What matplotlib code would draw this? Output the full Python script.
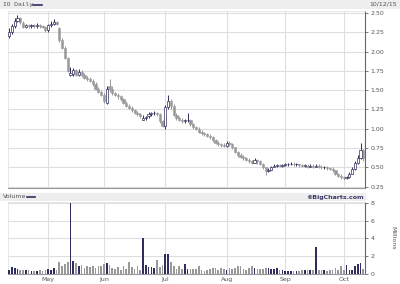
import matplotlib
matplotlib.use('Agg')
import matplotlib.pyplot as plt
from matplotlib.patches import Rectangle
import numpy as np
import pandas as pd

# IO daily, 13 Apr - 12 Oct 2015
closes = [2.25, 2.33, 2.40, 2.44, 2.38, 2.32, 2.34, 2.33, 2.34, 2.33,
          2.35, 2.33, 2.32, 2.28, 2.34, 2.36, 2.38, 2.36, 2.15, 2.05,
          1.92, 1.75, 1.72, 1.76, 1.70, 1.74, 1.70, 1.66, 1.65, 1.62,
          1.58, 1.52, 1.48, 1.44, 1.36, 1.52, 1.52, 1.46, 1.44, 1.42,
          1.38, 1.34, 1.30, 1.27, 1.24, 1.21, 1.19, 1.16, 1.14, 1.15,
          1.19, 1.20, 1.20, 1.19, 1.10, 1.04, 1.28, 1.36, 1.30, 1.18,
          1.14, 1.12, 1.10, 1.11, 1.12, 1.06, 1.02, 1.00, 0.96, 0.94,
          0.93, 0.91, 0.89, 0.85, 0.82, 0.80, 0.79, 0.78, 0.82, 0.80,
          0.76, 0.70, 0.66, 0.64, 0.62, 0.60, 0.58, 0.56, 0.59, 0.58,
          0.55, 0.50, 0.45, 0.47, 0.50, 0.52, 0.53, 0.52, 0.53, 0.54,
          0.54, 0.55, 0.54, 0.54, 0.53, 0.52, 0.52, 0.51, 0.52, 0.51,
          0.52, 0.51, 0.50, 0.50, 0.49, 0.48, 0.46, 0.42, 0.39, 0.37,
          0.36, 0.37, 0.42, 0.48, 0.56, 0.62, 0.72, 0.62]
opens = [2.20, 2.25, 2.33, 2.40, 2.44, 2.37, 2.32, 2.34, 2.33, 2.34,
         2.33, 2.35, 2.33, 2.32, 2.28, 2.34, 2.36, 2.38, 2.30, 2.15,
         2.05, 1.92, 1.70, 1.71, 1.76, 1.70, 1.74, 1.70, 1.66, 1.65,
         1.62, 1.58, 1.52, 1.48, 1.44, 1.34, 1.55, 1.52, 1.46, 1.44,
         1.42, 1.38, 1.34, 1.30, 1.27, 1.24, 1.21, 1.19, 1.12, 1.14,
         1.16, 1.19, 1.20, 1.20, 1.19, 1.10, 1.04, 1.28, 1.36, 1.30,
         1.18, 1.14, 1.12, 1.10, 1.11, 1.12, 1.06, 1.02, 1.00, 0.96,
         0.94, 0.93, 0.91, 0.89, 0.85, 0.82, 0.80, 0.79, 0.78, 0.82,
         0.80, 0.76, 0.70, 0.66, 0.64, 0.62, 0.60, 0.58, 0.56, 0.59,
         0.58, 0.55, 0.50, 0.45, 0.47, 0.50, 0.52, 0.53, 0.52, 0.53,
         0.54, 0.54, 0.55, 0.54, 0.54, 0.53, 0.52, 0.52, 0.51, 0.52,
         0.51, 0.52, 0.51, 0.50, 0.50, 0.49, 0.48, 0.46, 0.42, 0.39,
         0.37, 0.36, 0.37, 0.42, 0.48, 0.56, 0.62, 0.72]
highs = [2.30, 2.36, 2.44, 2.48, 2.45, 2.39, 2.36, 2.36, 2.36, 2.36,
         2.37, 2.36, 2.35, 2.33, 2.36, 2.39, 2.42, 2.40, 2.32, 2.17,
         2.07, 1.93, 1.80, 1.79, 1.78, 1.78, 1.76, 1.72, 1.68, 1.67,
         1.64, 1.60, 1.54, 1.50, 1.46, 1.56, 1.64, 1.55, 1.48, 1.46,
         1.44, 1.40, 1.36, 1.32, 1.29, 1.26, 1.23, 1.21, 1.18, 1.17,
         1.22, 1.22, 1.23, 1.22, 1.20, 1.12, 1.31, 1.44, 1.38, 1.32,
         1.20, 1.16, 1.14, 1.13, 1.20, 1.13, 1.08, 1.04, 1.02, 0.98,
         0.96, 0.95, 0.93, 0.91, 0.87, 0.84, 0.82, 0.81, 0.84, 0.84,
         0.81, 0.77, 0.71, 0.68, 0.66, 0.64, 0.62, 0.60, 0.62, 0.61,
         0.59, 0.56, 0.51, 0.49, 0.52, 0.54, 0.55, 0.55, 0.55, 0.56,
         0.56, 0.57, 0.57, 0.56, 0.55, 0.55, 0.54, 0.54, 0.54, 0.54,
         0.54, 0.54, 0.53, 0.52, 0.52, 0.51, 0.50, 0.47, 0.43, 0.41,
         0.39, 0.39, 0.44, 0.50, 0.58, 0.66, 0.82, 0.74]
lows = [2.18, 2.23, 2.31, 2.38, 2.36, 2.30, 2.30, 2.31, 2.31, 2.31,
        2.31, 2.31, 2.30, 2.26, 2.26, 2.32, 2.34, 2.34, 2.13, 2.03,
        1.90, 1.73, 1.68, 1.68, 1.68, 1.68, 1.67, 1.64, 1.62, 1.60,
        1.56, 1.50, 1.46, 1.42, 1.33, 1.32, 1.48, 1.44, 1.42, 1.39,
        1.36, 1.32, 1.28, 1.25, 1.22, 1.19, 1.17, 1.14, 1.11, 1.12,
        1.14, 1.17, 1.18, 1.17, 1.08, 1.02, 1.00, 1.26, 1.26, 1.16,
        1.12, 1.10, 1.08, 1.08, 1.09, 1.04, 1.00, 0.98, 0.94, 0.92,
        0.91, 0.89, 0.87, 0.83, 0.80, 0.78, 0.77, 0.76, 0.77, 0.78,
        0.74, 0.68, 0.64, 0.62, 0.60, 0.58, 0.56, 0.54, 0.56, 0.55,
        0.53, 0.48, 0.40, 0.44, 0.46, 0.50, 0.51, 0.50, 0.51, 0.52,
        0.52, 0.53, 0.52, 0.52, 0.51, 0.50, 0.50, 0.49, 0.50, 0.49,
        0.50, 0.49, 0.48, 0.48, 0.47, 0.46, 0.44, 0.40, 0.37, 0.35,
        0.34, 0.35, 0.36, 0.41, 0.47, 0.55, 0.61, 0.58]
# volume in millions
volume = [0.5, 0.8, 0.7, 0.6, 0.5, 0.4, 0.5, 0.4, 0.3, 0.3, 0.3, 0.4, 0.3, 0.5,
          0.6, 0.5, 0.7, 0.5, 1.4, 0.9, 1.1, 1.4, 8.0, 1.5, 1.2, 0.9, 1.0, 0.7,
          0.9, 0.8, 0.9, 0.7, 0.9, 0.9,
          1.1, 1.2, 1.0, 0.7, 0.6, 0.8, 0.5, 0.9, 0.6, 1.3, 0.8, 0.6, 0.9, 0.5,
          4.0, 1.0, 0.8, 0.8, 0.7, 1.6, 0.8, 1.0,
          2.3, 2.2, 1.4, 0.85, 0.55, 0.85, 0.6, 1.15, 0.6, 0.6, 0.55, 0.55, 0.9,
          0.45, 0.35, 0.45, 0.6, 0.65, 0.65, 0.45, 0.7, 0.55,
          0.45, 0.65, 0.6, 0.65, 0.9, 0.85, 0.55, 0.45, 0.65, 0.85, 0.65, 0.55,
          0.55, 0.6, 0.7, 0.65, 0.55, 0.55, 0.65, 0.45, 0.4,
          0.35, 0.35, 0.35, 0.3, 0.3, 0.3, 0.4, 0.4, 0.45, 0.45, 0.45, 3.0,
          0.4, 0.4, 0.4, 0.3, 0.4, 0.4, 0.65, 0.45, 0.85,
          0.45, 1.0, 0.45, 0.5, 0.9, 1.1, 1.2, 0.55]

month_labels = ['May', 'Jun', 'Jul', 'Aug', 'Sep', 'Oct']
price_ticks = [0.25, 0.50, 0.75, 1.00, 1.25, 1.50, 1.75, 2.00, 2.25, 2.50]
vol_ticks = [0, 2, 4, 6, 8]

# trading days (market holidays dropped)
days = pd.bdate_range('2015-04-13', '2015-10-12')
days = days.drop(pd.to_datetime(['2015-05-25', '2015-07-03', '2015-09-07']))
x = np.arange(len(days))
month_pos = [int(np.argmax((days.month == m))) for m in range(5, 11)]

NAVY = '#2e2e5e'
GREY = '#999999'
GRID = '#dedede'
TXT = '#555555'

o = np.array(opens)
c = np.array(closes)
up = c >= o

fig = plt.figure(figsize=(4, 2.84), dpi=100)
fig.patch.set_facecolor('white')


def style_axes(ax):
    ax.set_facecolor('white')
    ax.yaxis.tick_right()
    ax.tick_params(axis='y', length=2, width=0.6, color='#666666',
                   labelsize=4.5, labelcolor=TXT, pad=2)
    ax.tick_params(axis='x', length=0, labelsize=4.5, labelcolor=TXT, pad=2)
    for s in ['left', 'top']:
        ax.spines[s].set_color('#e4e4e4')
        ax.spines[s].set_linewidth(0.6)
    ax.spines['bottom'].set_color('#999999')
    ax.spines['bottom'].set_linewidth(0.8)
    ax.spines['right'].set_color('#666666')
    ax.spines['right'].set_linewidth(0.8)
    ax.set_xticks(month_pos)
    ax.grid(True, color=GRID, lw=0.8)
    ax.set_axisbelow(True)
    ax.set_xlim(-0.4, 127.6)


# header strips
fig.add_artist(Rectangle((0, 1 - 9 / 284), 1, 9 / 284, transform=fig.transFigure,
                         facecolor='#eeeeee', edgecolor='none'))
fig.add_artist(Rectangle((0, 1 - 201 / 284), 0.915, 8 / 284,
                         transform=fig.transFigure, facecolor='#eeeeee',
                         edgecolor='none'))
fig.text(3 / 400, 1 - 4.5 / 284, 'IO Daily', fontsize=4.5, color=TXT,
         family='DejaVu Sans Mono', va='center')
fig.add_artist(plt.Line2D([33 / 400, 42 / 400], [1 - 4.5 / 284] * 2,
                          color=NAVY, lw=1.2, transform=fig.transFigure))
fig.text(397 / 400, 1 - 4.5 / 284, '10/12/15', fontsize=4.5, color=TXT,
         va='center', ha='right')
fig.text(3 / 400, 1 - 197 / 284, 'Volume', fontsize=4.5, color=TXT,
         va='center')
fig.add_artist(plt.Line2D([27 / 400, 35 / 400], [1 - 197 / 284] * 2,
                          color=NAVY, lw=1.2, transform=fig.transFigure))
fig.text(364 / 400, 1 - 197 / 284, '©BigCharts.com', fontsize=4.5,
         color='#3a3a66', weight='bold', va='center', ha='right')

# price panel
ax = fig.add_axes([8 / 400, 1 - 188 / 284, 357 / 400, 177 / 284])
style_axes(ax)
ax.set_ylim(0.233, 2.526)
ax.set_yticks(price_ticks)
ax.set_yticklabels([f'{t:.2f}' for t in price_ticks])
ax.set_xticklabels([])

lo = np.array(lows)
hi = np.array(highs)
ax.vlines(x[~up], lo[~up], hi[~up], color=GREY, lw=0.7, zorder=2)
ax.vlines(x[up], lo[up], hi[up], color=NAVY, lw=0.7, zorder=2)
body_lo = np.minimum(o, c)
body_h = np.maximum(np.abs(c - o), 0.008)
ax.bar(x[~up], body_h[~up], bottom=body_lo[~up], width=0.8, color=GREY,
       edgecolor=GREY, lw=0.4, zorder=3)
ax.bar(x[up], body_h[up], bottom=body_lo[up], width=0.8, color='white',
       edgecolor=NAVY, lw=0.5, zorder=3)

# volume panel
axv = fig.add_axes([8 / 400, 1 - 274 / 284, 357 / 400, 72 / 284])
style_axes(axv)
axv.set_ylim(0, 8.1)
axv.set_yticks(vol_ticks)
axv.set_yticklabels([str(t) for t in vol_ticks])
axv.set_xticklabels(month_labels)
vol = np.array(volume)
axv.bar(x[up], vol[up], width=0.6, color=NAVY, zorder=3)
axv.bar(x[~up], vol[~up], width=0.6, color=GREY, zorder=3)
fig.text(393 / 400, 1 - 238 / 284, 'Millions', fontsize=4.5, color=TXT,
         rotation=270, va='center', ha='center')

fig.savefig('out.png', dpi=100)
